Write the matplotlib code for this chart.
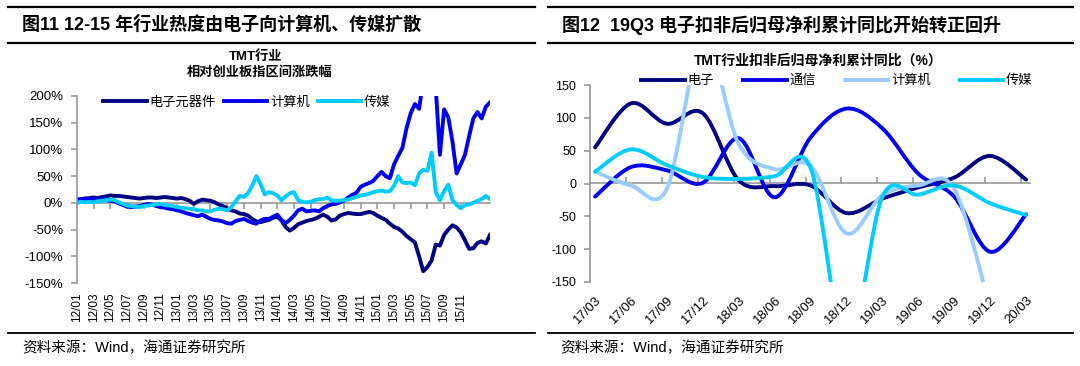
import numpy as np
import matplotlib
matplotlib.use('Agg')
import matplotlib.pyplot as plt
from matplotlib.lines import Line2D
from matplotlib.path import Path
from matplotlib.patches import PathPatch

plt.rcParams['font.family'] = ['Liberation Sans', 'Noto Sans CJK SC', 'DejaVu Sans']
plt.rcParams['axes.unicode_minus'] = False

# ---- left chart: semi-monthly, 2012/01 .. 2016/02
left_ticks = ['12/01', '12/03', '12/05', '12/07', '12/09', '12/11',
              '13/01', '13/03', '13/05', '13/07', '13/09', '13/11',
              '14/01', '14/03', '14/05', '14/07', '14/09', '14/11',
              '15/01', '15/03', '15/05', '15/07', '15/09', '15/11']
elec = [5, 7, 8, 9, 10, 9, 11, 12, 14, 13,
        13, 12, 11, 10, 9, 8, 9, 10, 10, 9,
        10, 11, 10, 9, 8, 9, 7, 4, -2, 3,
        6, 5, 4, 1, -3, -6, -10, -14, -16, -20,
        -21, -24, -30, -35, -36, -34, -32, -28, -26, -33,
        -45, -52, -47, -40, -37, -34, -32, -30, -26, -22,
        -26, -33, -31, -24, -21, -19, -20, -21, -21, -19,
        -17, -19, -24, -28, -32, -39, -45, -48, -54, -62,
        -68, -74, -100, -128, -120, -108, -78, -80, -60, -50,
        -42, -46, -55, -70, -86, -85, -75, -72, -76, -60]
comp = [7, 6, 8, 7, 7, 6, 7, 5, 4, 3,
        -1, -4, -7, -8, -7, -6, -4, -2, -3, -6,
        -8, -9, -11, -12, -14, -16, -19, -21, -23, -25,
        -22, -26, -30, -32, -33, -35, -38, -39, -34, -32,
        -30, -34, -37, -39, -33, -30, -30, -26, -22, -32,
        -38, -32, -24, -14, -11, -16, -15, -14, -16, -10,
        -6, -3, -2, 1, 4, 10, 15, 19, 30, 34,
        37, 41, 50, 58, 50, 46, 72, 88, 103, 140,
        168, 185, 176, 230, 260, 250, 215, 90, 175, 160,
        115, 55, 72, 90, 125, 158, 170, 158, 180, 188]
media = [0, 2, 1, 2, 1, 3, 4, 5, 6, 5,
         1, -2, -5, -6, -7, -8, -6, -5, -4, -3,
         -2, -4, -5, -6, -8, -9, -10, -11, -12, -14,
         -14, -16, -16, -13, -11, -12, -14, -8, 3, 13,
         11, 18, 32, 50, 35, 16, 20, 18, 14, 5,
         12, 18, 20, 5, 2, 1, 2, 5, 7, 7,
         10, 5, 4, 4, 5, 6, 9, 11, 14, 15,
         17, 20, 22, 23, 21, 22, 32, 50, 38, 37,
         38, 33, 55, 62, 60, 94, 20, 5, 22, 34,
         5, -4, -10, -4, -3, 0, 4, 7, 13, 7]

# ---- right chart: quarterly
quarters = ['17/03', '17/06', '17/09', '17/12', '18/03', '18/06', '18/09',
            '18/12', '19/03', '19/06', '19/09', '19/12', '20/03']
q_elec = [55, 122, 91, 107, 5, -4, -3, -45, -23, -6, 9, 42, 6]
q_tel = [-20, 25, 20, 1, 69, -21, 70, 114, 84, 15, -20, -104, -47]
q_comp = [18, -3, -8, 220, 60, 22, 27, -76, -18, -3, -8, -190, np.nan]
q_media = [18, 52, 28, 10, 7, 11, 24, -250, -20, -17, -3, -30, -48]

NAVY = '#000080'
BLUE = '#0000EE'
CYAN = '#00CCFF'
LIGHT = '#99CCFF'
GRAY = '#9a9a9a'

W, H = 1080, 366
fig = plt.figure(figsize=(W / 100, H / 100), dpi=100)


def fx(px):
    return px / W


def fy(py):
    return 1 - py / H


def hline(x0, x1, y, lw):
    fig.add_artist(Line2D([fx(x0), fx(x1)], [fy(y), fy(y)], transform=fig.transFigure,
                          color='black', lw=lw))


# header / footer rules and texts
for x0, x1 in [(8, 535), (548, 1073)]:
    hline(x0, x1, 7, 1.6)
    hline(x0, x1, 43, 1.6)
    hline(x0, x1, 333, 1.3)

fig.text(fx(22), fy(25), '图11 12-15 年行业热度由电子向计算机、传媒扩散', fontsize=13,
         fontweight='bold', va='center', ha='left')
fig.text(fx(562), fy(25), '图12  19Q3 电子扣非后归母净利累计同比开始转正回升', fontsize=13,
         fontweight='bold', va='center', ha='left')
fig.text(fx(22), fy(348), '资料来源：Wind，海通证券研究所', fontsize=10.5, va='center', ha='left')
fig.text(fx(560), fy(348), '资料来源：Wind，海通证券研究所', fontsize=10.5, va='center', ha='left')

# ---------------- left chart
ax = fig.add_axes([fx(77), fy(283), fx(490) - fx(77), fy(96) - fy(283)])
x = np.arange(len(elec))
ax.plot(x, elec, color=NAVY, lw=2.8, label='电子元器件')
ax.plot(x, comp, color=BLUE, lw=2.8, label='计算机')
ax.plot(x, media, color=CYAN, lw=2.8, label='传媒')
ax.set_xlim(0, len(elec) - 1)
ax.set_ylim(-150, 200)
ax.set_yticks(np.arange(-150, 201, 50))
ax.set_yticklabels([f'{v}%' for v in range(-150, 201, 50)], fontsize=9.5)
tick_pos = np.arange(0, 4 * len(left_ticks), 4)
ax.set_xticks(tick_pos)
ax.set_xticklabels(left_ticks, rotation=90, fontsize=8.5, va='top')
ax.tick_params(axis='x', length=0, pad=7)
ax.tick_params(axis='y', length=4, color=GRAY, width=1.2, pad=6)
for s in ['top', 'right', 'bottom']:
    ax.spines[s].set_visible(False)
ax.spines['left'].set_color(GRAY)
ax.spines['left'].set_linewidth(1.2)
zero = ax.secondary_xaxis(150 / 350)
zero.set_xticks(tick_pos)
zero.set_xticklabels([])
zero.tick_params(length=4, color=GRAY, width=1.2)
for s in zero.spines.values():
    s.set_color(GRAY)
    s.set_linewidth(1.2)
zero.set_zorder(0)
ax.legend(loc='center left', bbox_to_anchor=(0.035, 0.965), ncol=3, frameon=False,
          fontsize=9.5, handlelength=3.3, columnspacing=0.6, handletextpad=0.2)
ax.text(0.433, 1.209, 'TMT行业', transform=ax.transAxes, ha='center', va='center',
        fontsize=9.5, fontweight='bold')
ax.text(0.443, 1.123, '相对创业板指区间涨跌幅', transform=ax.transAxes, ha='center',
        va='center', fontsize=9.5, fontweight='bold')


# ---------------- right chart (smoothed lines, Excel style)
def smooth_path(xs, ys):
    pts = np.array([(a, b) for a, b in zip(xs, ys) if not np.isnan(b)], dtype=float)
    n = len(pts)
    verts = [pts[0]]
    codes = [Path.MOVETO]
    for i in range(n - 1):
        p0 = pts[max(i - 1, 0)]
        p1 = pts[i]
        p2 = pts[i + 1]
        p3 = pts[min(i + 2, n - 1)]
        verts += [p1 + (p2 - p0) / 6, p2 - (p3 - p1) / 6, p2]
        codes += [Path.CURVE4] * 3
    return Path(verts, codes)


ax2 = fig.add_axes([fx(590), fy(282), fx(1030) - fx(590), fy(85) - fy(282)])
q = np.arange(len(quarters))
series = [('电子', q_elec, NAVY), ('通信', q_tel, BLUE), ('计算机', q_comp, LIGHT),
          ('传媒', q_media, CYAN)]
handles = []
for name, vals, col in series:
    ax2.add_patch(PathPatch(smooth_path(q, np.array(vals, dtype=float)), facecolor='none',
                            edgecolor=col, lw=2.8, capstyle='round', joinstyle='round'))
    handles.append(Line2D([], [], color=col, lw=2.8, label=name))
ax2.set_xlim(-0.14, 12.11)
ax2.set_ylim(-150, 150)
ax2.set_yticks(np.arange(-150, 151, 50))
ax2.set_yticklabels([str(v) for v in range(-150, 151, 50)], fontsize=9)
ax2.set_xticks(q)
ax2.set_xticklabels(quarters, rotation=45, ha='right', va='top', rotation_mode='anchor',
                    fontsize=9.5)
ax2.tick_params(axis='x', length=0, pad=9)
ax2.tick_params(axis='y', length=4, color=GRAY, width=1.2, pad=6)
for s in ['top', 'right', 'bottom']:
    ax2.spines[s].set_visible(False)
ax2.spines['left'].set_color(GRAY)
ax2.spines['left'].set_linewidth(1.2)
zero2 = ax2.secondary_xaxis(0.5)
zero2.set_xticks(np.arange(1, 13) - 0.14)
zero2.set_xticklabels([])
zero2.tick_params(length=4, color=GRAY, width=1.2)
for s in zero2.spines.values():
    s.set_color(GRAY)
    s.set_linewidth(1.2)
ax2.legend(handles=handles, loc='center left', bbox_to_anchor=(0.09, 1.02), ncol=4,
           frameon=False, fontsize=9.5, handlelength=3.3, columnspacing=2.2,
           handletextpad=0.2)
ax2.text(0.518, 1.125, 'TMT行业扣非后归母净利累计同比（%）', transform=ax2.transAxes,
         ha='center', va='center', fontsize=10, fontweight='bold')

fig.savefig('out.png', dpi=100)
